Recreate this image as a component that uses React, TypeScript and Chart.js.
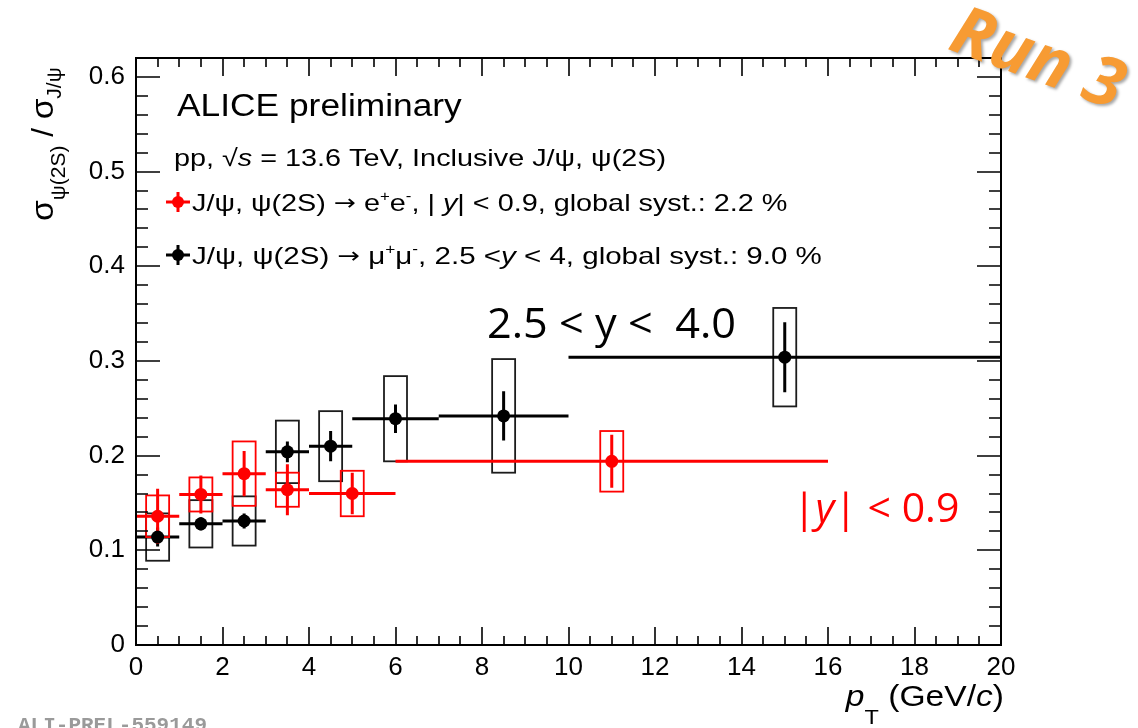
import { useEffect, useRef } from "react";
import { Chart, registerables } from "chart.js";

Chart.register(...registerables);

// psi(2S)/J/psi ratio, e+e- channel at midrapidity (|y| < 0.9)
const eeBinLow = [0, 1, 2, 3, 4, 6];
const eeBinHigh = [1, 2, 3, 4, 6, 16];
const eePt = [0.5, 1.5, 2.5, 3.5, 5, 11];
const eeRatio = [0.136, 0.159, 0.181, 0.164, 0.16, 0.194];
const eeStat = [0.029, 0.02, 0.024, 0.027, 0.022, 0.028];
const eeSyst = [0.022, 0.018, 0.034, 0.018, 0.024, 0.032];

// psi(2S)/J/psi ratio, mu+mu- channel at forward rapidity (2.5 < y < 4)
const mmBinLow = [0, 1, 2, 3, 4, 5, 7, 10];
const mmBinHigh = [1, 2, 3, 4, 5, 7, 10, 20];
const mmPt = [0.5, 1.5, 2.5, 3.5, 4.5, 6, 8.5, 15];
const mmRatio = [0.114, 0.128, 0.131, 0.204, 0.21, 0.239, 0.242, 0.304];
const mmStat = [0.01, 0.007, 0.008, 0.011, 0.016, 0.015, 0.026, 0.037];
const mmSyst = [0.025, 0.025, 0.026, 0.033, 0.037, 0.045, 0.06, 0.052];

// axis ranges and tick values
const xTickValues = [0, 2, 4, 6, 8, 10, 12, 14, 16, 18, 20];
const yTickValues = [0, 0.1, 0.2, 0.3, 0.4, 0.5, 0.6];
const X_RANGE = [0, 20];
const Y_RANGE = [0, 0.62];
const X_MINOR_STEP = 0.5;
const Y_MINOR_STEP = 0.02;

const RED = "#ff0000";
const BLACK = "#000000";
const SANS = "'Liberation Sans', Arial, sans-serif";
const ARROW_FONT = "'DejaVu Sans', sans-serif";
const TEXT_SX = 1.12; // ROOT text renders a bit wider than Liberation Sans
const LEGEND_SX = 1.2;

const W = 1138;
const H = 728;

type Series = {
  color: string;
  boxColor: string;
  low: number[];
  high: number[];
  x: number[];
  y: number[];
  stat: number[];
  syst: number[];
};

const eeSeries: Series = {
  color: RED, boxColor: RED, low: eeBinLow, high: eeBinHigh,
  x: eePt, y: eeRatio, stat: eeStat, syst: eeSyst,
};
const mmSeries: Series = {
  color: BLACK, boxColor: "#1c1c1c", low: mmBinLow, high: mmBinHigh,
  x: mmPt, y: mmRatio, stat: mmStat, syst: mmSyst,
};

type Seg = { t: string; size: number; italic?: boolean; bold?: boolean; dy?: number; family?: string };

function segFont(s: Seg, family: string) {
  return `${s.italic ? "italic " : ""}${s.bold ? "bold " : ""}${s.size}px ${s.family ?? family}`;
}

function richWidth(ctx: CanvasRenderingContext2D, segs: Seg[], family: string) {
  let w = 0;
  for (const s of segs) {
    ctx.font = segFont(s, family);
    w += ctx.measureText(s.t).width;
  }
  return w;
}

function drawRich(
  ctx: CanvasRenderingContext2D,
  segs: Seg[],
  x: number,
  y: number,
  opts: { family?: string; color?: string; sx?: number; align?: "left" | "right" | "center" } = {}
) {
  const family = opts.family ?? SANS;
  const sx = opts.sx ?? 1;
  const w = richWidth(ctx, segs, family) * sx;
  const x0 = opts.align === "right" ? x - w : opts.align === "center" ? x - w / 2 : x;
  ctx.save();
  ctx.translate(x0, y);
  ctx.scale(sx, 1);
  ctx.fillStyle = opts.color ?? BLACK;
  ctx.textAlign = "left";
  ctx.textBaseline = "alphabetic";
  let cx = 0;
  for (const s of segs) {
    ctx.font = segFont(s, family);
    ctx.fillText(s.t, cx, s.dy ?? 0);
    cx += ctx.measureText(s.t).width;
  }
  ctx.restore();
}

function minorValues(min: number, max: number, step: number) {
  const out: number[] = [];
  const n = Math.round((max - min) / step);
  for (let k = 0; k <= n; k++) out.push(+(min + k * step).toFixed(6));
  return out;
}

// frame with inward ticks on all four sides
const framePlugin = {
  id: "rootFrame",
  afterDraw(chart: any) {
    const { ctx, chartArea: a, scales } = chart;
    const xs = scales.x;
    const ys = scales.y;
    ctx.save();
    ctx.strokeStyle = BLACK;
    ctx.lineWidth = 2;
    ctx.strokeRect(a.left, a.top, a.right - a.left, a.bottom - a.top);

    ctx.lineWidth = 1.6;
    ctx.beginPath();
    for (const v of minorValues(X_RANGE[0], X_RANGE[1], X_MINOR_STEP)) {
      const major = xTickValues.some((t) => Math.abs(t - v) < 1e-6);
      const len = major ? 18 : 9;
      const px = Math.round(xs.getPixelForValue(v));
      ctx.moveTo(px, a.bottom);
      ctx.lineTo(px, a.bottom - len);
      ctx.moveTo(px, a.top);
      ctx.lineTo(px, a.top + len);
    }
    for (const v of minorValues(Y_RANGE[0], Y_RANGE[1], Y_MINOR_STEP)) {
      if (v > Y_RANGE[1] + 1e-9) continue;
      const major = yTickValues.some((t) => Math.abs(t - v) < 1e-6);
      const len = major ? 24 : 12;
      const py = Math.round(ys.getPixelForValue(v));
      ctx.moveTo(a.left, py);
      ctx.lineTo(a.left + len, py);
      ctx.moveTo(a.right, py);
      ctx.lineTo(a.right - len, py);
    }
    ctx.stroke();
    ctx.restore();
  },
};

// pT-bin widths, statistical bars and systematic boxes
const errorPlugin = {
  id: "errorBars",
  beforeDatasetsDraw(chart: any) {
    const { ctx, scales } = chart;
    const xs = scales.x;
    const ys = scales.y;
    const boxHalf = 11.5;
    for (const s of [mmSeries, eeSeries]) {
      ctx.save();
      // systematic boxes
      ctx.strokeStyle = s.boxColor;
      ctx.lineWidth = 1.8;
      for (let i = 0; i < s.x.length; i++) {
        const cx = xs.getPixelForValue(s.x[i]);
        const top = ys.getPixelForValue(s.y[i] + s.syst[i]);
        const bot = ys.getPixelForValue(s.y[i] - s.syst[i]);
        ctx.strokeRect(cx - boxHalf, top, boxHalf * 2, bot - top);
      }
      // bin width and statistical uncertainty
      ctx.strokeStyle = s.color;
      ctx.lineWidth = 3;
      ctx.beginPath();
      for (let i = 0; i < s.x.length; i++) {
        const cy = ys.getPixelForValue(s.y[i]);
        ctx.moveTo(xs.getPixelForValue(s.low[i]), cy);
        ctx.lineTo(xs.getPixelForValue(s.high[i]), cy);
        const cx = xs.getPixelForValue(s.x[i]);
        ctx.moveTo(cx, ys.getPixelForValue(s.y[i] + s.stat[i]));
        ctx.lineTo(cx, ys.getPixelForValue(s.y[i] - s.stat[i]));
      }
      ctx.stroke();
      ctx.restore();
    }
  },
};

function legendMarker(ctx: CanvasRenderingContext2D, x: number, y: number, color: string) {
  ctx.save();
  ctx.strokeStyle = color;
  ctx.fillStyle = color;
  ctx.lineWidth = 3;
  ctx.beginPath();
  ctx.moveTo(x - 12, y);
  ctx.lineTo(x + 12, y);
  ctx.moveTo(x, y - 10);
  ctx.lineTo(x, y + 10);
  ctx.stroke();
  ctx.beginPath();
  ctx.arc(x, y, 6, 0, Math.PI * 2);
  ctx.fill();
  ctx.restore();
}

// titles, legend and annotations
const textPlugin = {
  id: "texts",
  afterDraw(chart: any) {
    const ctx: CanvasRenderingContext2D = chart.ctx;

    // y-axis title
    ctx.save();
    ctx.translate(53, 221);
    ctx.rotate(-Math.PI / 2);
    drawRich(ctx, [
      { t: "σ", size: 32 },
      { t: "ψ(2S)", size: 20, dy: 12 },
      { t: " / ", size: 30 },
      { t: "σ", size: 32 },
      { t: "J/ψ", size: 20, dy: 8 },
    ], 0, 0, { sx: 1.05 });
    ctx.restore();

    // x-axis title
    drawRich(ctx, [
      { t: "p", size: 30, italic: true },
      { t: "T", size: 21, dy: 18 },
      { t: " (GeV/", size: 30 },
      { t: "c", size: 30, italic: true },
      { t: ")", size: 30 },
    ], 1004, 706, { sx: TEXT_SX, align: "right" });

    // header
    drawRich(ctx, [{ t: "ALICE preliminary", size: 31 }], 177, 116, { sx: 1.14 });
    drawRich(ctx, [
      { t: "pp, ", size: 24 },
      { t: "√", size: 24 },
      { t: "s", size: 24, italic: true },
      { t: " = 13.6 TeV, Inclusive J/ψ, ψ(2S)", size: 24 },
    ], 174, 166, { sx: LEGEND_SX });

    // legend entries
    legendMarker(ctx, 178, 202, RED);
    drawRich(ctx, [
      { t: "J/ψ, ψ(2S) ", size: 24 },
      { t: "→", size: 22, family: ARROW_FONT, dy: -1 },
      { t: " e", size: 24 },
      { t: "+", size: 14, dy: -10 },
      { t: "e", size: 24 },
      { t: "-", size: 14, dy: -10 },
      { t: ", | ", size: 24 },
      { t: "y", size: 24, italic: true },
      { t: "| < 0.9, global syst.: 2.2 %", size: 24 },
    ], 192, 211, { sx: LEGEND_SX });

    legendMarker(ctx, 178, 255, BLACK);
    drawRich(ctx, [
      { t: "J/ψ, ψ(2S) ", size: 24 },
      { t: "→", size: 22, family: ARROW_FONT, dy: -1 },
      { t: " μ", size: 24 },
      { t: "+", size: 14, dy: -10 },
      { t: "μ", size: 24 },
      { t: "-", size: 14, dy: -10 },
      { t: ", 2.5 <", size: 24 },
      { t: "y", size: 24, italic: true },
      { t: " < 4, global syst.: 9.0 %", size: 24 },
    ], 192, 264, { sx: 1.23 });

    // rapidity annotations
    drawRich(ctx, [{ t: "2.5 < y <  4.0", size: 42 }], 487, 338, { family: "'Open Sans', sans-serif", sx: 1.03 });
    drawRich(ctx, [
      { t: "|", size: 41 },
      { t: "y", size: 41, italic: true },
      { t: "| < 0.9", size: 41 },
    ], 793, 522, { family: "'Open Sans', sans-serif", color: RED });

    // run label
    ctx.save();
    ctx.translate(1037, 61);
    ctx.rotate((20 * Math.PI) / 180);
    ctx.font = "bold italic 68px 'Open Sans', sans-serif";
    ctx.textAlign = "center";
    ctx.textBaseline = "middle";
    ctx.shadowColor = "rgba(0,0,0,0.35)";
    ctx.shadowOffsetX = 2;
    ctx.shadowOffsetY = 2;
    ctx.shadowBlur = 3;
    ctx.fillStyle = "#f79b33";
    ctx.fillText("Run 3", 0, 0);
    ctx.restore();

    // figure id
    drawRich(ctx, [{ t: "ALI-PREL-559149", size: 21, bold: true }], 18, 731, {
      family: "'Liberation Mono', 'DejaVu Sans Mono', monospace",
      color: "#9a9a9a",
    });
  },
};

export default function App() {
  const ref = useRef<HTMLCanvasElement | null>(null);

  useEffect(() => {
    const canvas = ref.current;
    if (!canvas) return;
    const chart = new Chart(canvas, {
      type: "scatter",
      data: {
        datasets: [
          {
            label: "e+e-, |y| < 0.9",
            data: eePt.map((x, i) => ({ x, y: eeRatio[i] })),
            pointRadius: 6.5,
            pointBackgroundColor: RED,
            pointBorderWidth: 0,
            showLine: false,
          },
          {
            label: "mu+mu-, 2.5 < y < 4",
            data: mmPt.map((x, i) => ({ x, y: mmRatio[i] })),
            pointRadius: 6.5,
            pointBackgroundColor: BLACK,
            pointBorderWidth: 0,
            showLine: false,
          },
        ],
      },
      options: {
        animation: false,
        responsive: false,
        devicePixelRatio: 1,
        layout: { padding: { top: 58, right: W - 1001, left: 0, bottom: 0 } },
        plugins: { legend: { display: false }, tooltip: { enabled: false } },
        scales: {
          x: {
            type: "linear",
            min: X_RANGE[0],
            max: X_RANGE[1],
            grid: { display: false, drawTicks: false },
            border: { display: false },
            afterFit: (s: any) => { s.height = H - 645; },
            afterBuildTicks: (s: any) => { s.ticks = xTickValues.map((v) => ({ value: v })); },
            ticks: {
              color: BLACK,
              padding: 7,
              maxRotation: 0,
              autoSkip: false,
              font: { family: SANS, size: 26 },
              callback: (v: any) => String(v),
            },
          },
          y: {
            type: "linear",
            min: Y_RANGE[0],
            max: Y_RANGE[1],
            grid: { display: false, drawTicks: false },
            border: { display: false },
            afterFit: (s: any) => { s.width = 136; },
            afterBuildTicks: (s: any) => { s.ticks = yTickValues.map((v) => ({ value: v })); },
            ticks: {
              color: BLACK,
              padding: 11,
              autoSkip: false,
              font: { family: SANS, size: 26 },
              callback: (v: any) => (Number(v) === 0 ? "0" : Number(v).toFixed(1)),
            },
          },
        },
      },
      plugins: [errorPlugin, framePlugin, textPlugin],
    });
    return () => chart.destroy();
  }, []);

  return (
    <div style={{ position: "fixed", left: 0, top: 0, width: W, height: H, background: "#fff" }}>
      <canvas ref={ref} width={W} height={H} style={{ display: "block" }} />
    </div>
  );
}
